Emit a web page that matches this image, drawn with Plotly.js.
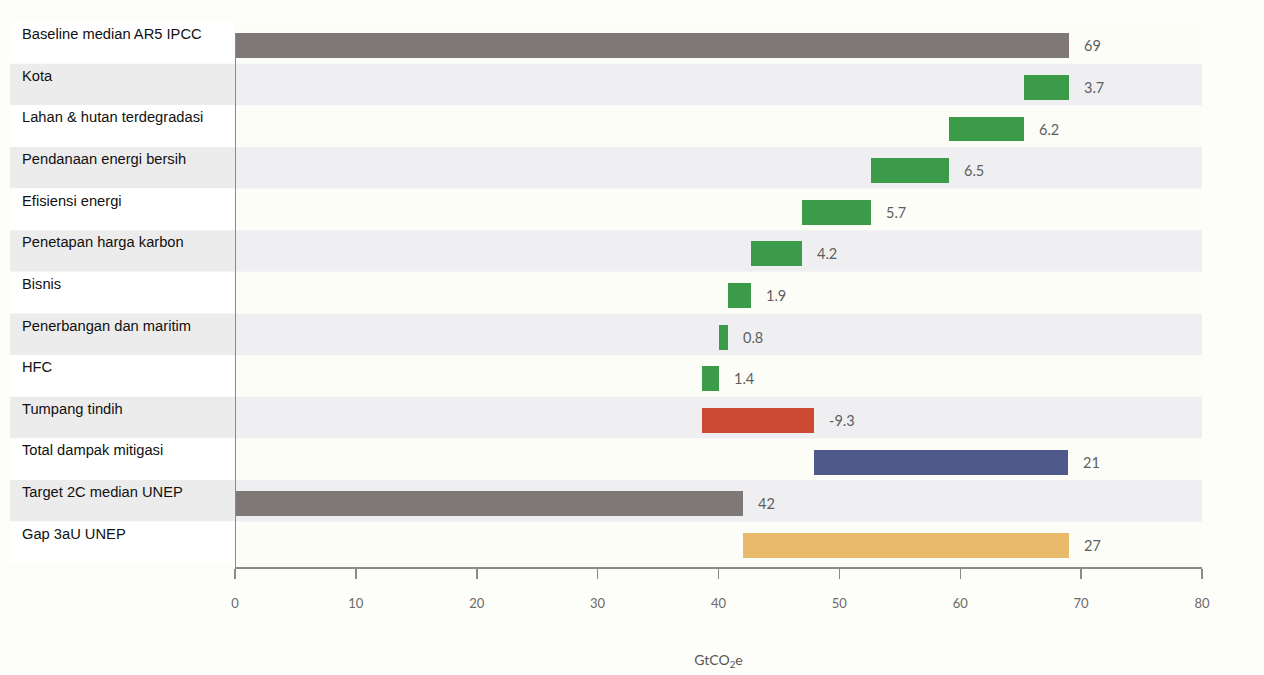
<!DOCTYPE html>
<html>
<head>
<meta charset="utf-8">
<script src="https://cdn.plot.ly/plotly-3.0.1.min.js"></script>
<style>
  html, body { margin: 0; padding: 0; background: #ffffff; }
  #chart { width: 1264px; height: 675px; }
</style>
</head>
<body>
<div id="chart"></div>
<script>
// Emission steps, GtCO2e
const categories = [
  'Baseline median AR5 IPCC',
  'Kota',
  'Lahan & hutan terdegradasi',
  'Pendanaan energi bersih',
  'Efisiensi energi',
  'Penetapan harga karbon',
  'Bisnis',
  'Penerbangan dan maritim',
  'HFC',
  'Tumpang tindih',
  'Total dampak mitigasi',
  'Target 2C median UNEP',
  'Gap 3aU UNEP'
];
const values = [69, 3.7, 6.2, 6.5, 5.7, 4.2, 1.9, 0.8, 1.4, -9.3, 21, 42, 27];
// role of each step in the waterfall
const kinds = ['start', 'cut', 'cut', 'cut', 'cut', 'cut', 'cut', 'cut', 'cut',
               'overlap', 'impact', 'target', 'gap'];
const xTicks = [0, 10, 20, 30, 40, 50, 60, 70, 80];

const kindColors = {
  start: '#7e7977', cut: '#3b9b48', overlap: '#cb4a31',
  impact: '#4f5a8b', target: '#7e7977', gap: '#e9ba6b'
};

// Work out where each bar starts and how long it is
const rows = categories.map((_, i) => i);
const bases = [], lengths = [], ends = [];
let level = 0, target = 0;
values.forEach((v, i) => {
  const k = kinds[i];
  let b, len;
  if (k === 'start') { b = 0; len = v; level = v; }
  else if (k === 'cut') { level -= v; b = level; len = v; }
  else if (k === 'overlap') { b = level; len = -v; level += -v; }
  else if (k === 'impact') { b = level; len = v; }
  else if (k === 'target') { b = 0; len = v; target = v; }
  else { b = target; len = v; }
  bases.push(b); lengths.push(len); ends.push(b + len);
});

const nRows = categories.length;
const yTop = -0.5, yBottom = nRows - 0.5 + 0.09;
const barWidth = 0.6, barShift = 0.07;
const labelX = -0.2223;   // paper x of row labels
const bandX = -0.2327;    // paper x where row bands begin

const shapes = [];
rows.forEach(i => {
  const shaded = i % 2 === 1;
  shapes.push({
    type: 'rect', xref: 'paper', yref: 'y', layer: 'below',
    x0: bandX, x1: 0, y0: i - 0.5, y1: i + 0.5,
    fillcolor: shaded ? '#ececec' : '#ffffff', line: { width: 0 }
  });
  if (shaded) {
    shapes.push({
      type: 'rect', xref: 'paper', yref: 'y', layer: 'below',
      x0: 0, x1: 1, y0: i - 0.5, y1: i + 0.5,
      fillcolor: '#efeff2', line: { width: 0 }
    });
  }
});
// vertical axis line at zero, starting at the top of the first bar
shapes.push({
  type: 'line', xref: 'x', yref: 'y', x0: 0, x1: 0,
  y0: -barWidth / 2 + barShift, y1: yBottom,
  line: { color: '#8a8a8a', width: 2 }
});

const annotations = [];
rows.forEach(i => {
  annotations.push({
    xref: 'paper', yref: 'y', x: labelX, y: i - 0.21,
    xanchor: 'left', yanchor: 'middle', showarrow: false,
    text: categories[i],
    font: { family: 'Liberation Sans, Arial, sans-serif', size: 14.7, color: '#111111' }
  });
  annotations.push({
    xref: 'x', yref: 'y', x: Math.max(bases[i], ends[i]), y: i + barShift,
    xanchor: 'left', yanchor: 'middle', xshift: 13, showarrow: false,
    text: String(values[i]),
    font: { family: 'Lato, Open Sans, sans-serif', size: 14.5, color: '#5e5e5e' }
  });
});

const trace = {
  type: 'bar', orientation: 'h',
  y: rows, x: lengths, base: bases,
  width: barWidth, offset: -barWidth / 2 + barShift,
  marker: { color: kinds.map(k => kindColors[k]), line: { width: 0 } },
  hoverinfo: 'skip'
};

const layout = {
  width: 1264, height: 675,
  margin: { l: 235, r: 62, t: 22, b: 108, pad: 0 },
  paper_bgcolor: '#fdfdf9',
  plot_bgcolor: '#fdfdf8',
  showlegend: false,
  bargap: 0,
  xaxis: {
    range: [0, 80], tickvals: xTicks, ticktext: xTicks.map(String),
    showgrid: false, zeroline: false,
    showline: true, linecolor: '#8a8a8a', linewidth: 2,
    ticks: 'outside', ticklen: 10, tickwidth: 1.5, tickcolor: '#8a8a8a',
    ticklabelstandoff: 13,
    tickfont: { family: 'Lato, Open Sans, sans-serif', size: 13, color: '#6a6a6a' },
    title: {
      text: 'GtCO<sub>2</sub>e', standoff: 46,
      font: { family: 'Lato, Open Sans, sans-serif', size: 14, color: '#555555' }
    },
    fixedrange: true
  },
  yaxis: {
    range: [yBottom, yTop], showgrid: false, zeroline: false,
    showticklabels: false, ticks: '', showline: false, fixedrange: true
  },
  shapes: shapes,
  annotations: annotations
};

Plotly.newPlot('chart', [trace], layout, { displayModeBar: false, staticPlot: true });
</script>
</body>
</html>
